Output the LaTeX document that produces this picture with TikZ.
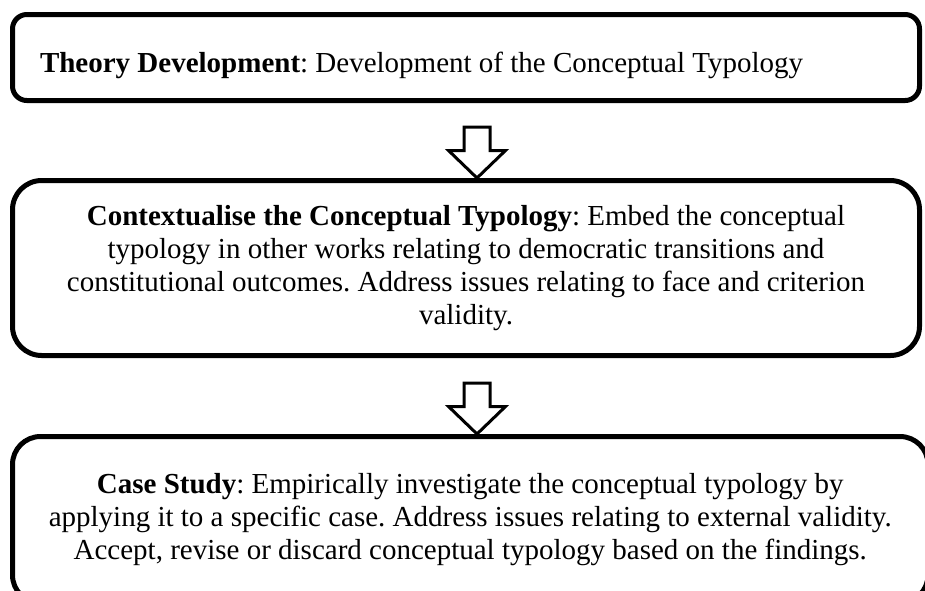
\documentclass[tikz,border=0pt]{standalone}
\usepackage{fontspec}
\setmainfont{Liberation Serif}
\frenchspacing

\tikzset{
  stage/.style={draw, line width=2.5pt, rounded corners=#1, inner sep=0pt,
    font=\fontsize{14.5pt}{16.6pt}\selectfont},
  hollow/.style={draw, line width=1.5pt, fill=white, line join=miter},
}

\begin{document}
\begin{tikzpicture}[x=0.5pt, y=-0.5pt]
\useasboundingbox (0,0) rectangle (925,590);

\node (theory) at (466,57.5) [stage=7.2pt, minimum width=453.5pt, minimum height=43pt,
  text width=426pt, align=flush left, text height=17.5pt, text depth=3pt]
  {\textbf{Theory Development}: Development of the Conceptual Typology};

\node (context) at (466,268) [stage=14.6pt, minimum width=453.5pt, minimum height=87.5pt, align=center]
  {\textbf{Contextualise the Conceptual Typology}: Embed the conceptual\\
   typology in other works relating to democratic transitions and\\
   constitutional outcomes. Address issues relating to face and criterion\\
   validity.};

\node (case) at (470.25,519.75) [stage=14pt, minimum width=457.75pt, minimum height=83.25pt, align=center]
  {\textbf{Case Study}: Empirically investigate the conceptual typology by\\
   applying it to a specific case. Address issues relating to external validity.\\
   Accept, revise or discard conceptual typology based on the findings.};

% block arrows between the stages
\coordinate (tipA) at ([xshift=5.5pt]context.north);
\coordinate (tipB) at ([xshift=3.375pt]case.north);

\draw[hollow] (tipA) -- ++(-28.5,-27.5) -- ++(15.5,0) -- ++(0,-23.5) -- ++(26,0)
  -- ++(0,23.5) -- ++(15.5,0) -- cycle;
\draw[hollow] (tipB) -- ++(-28.5,-27.5) -- ++(15.5,0) -- ++(0,-23.5) -- ++(26,0)
  -- ++(0,23.5) -- ++(15.5,0) -- cycle;
\end{tikzpicture}
\end{document}
